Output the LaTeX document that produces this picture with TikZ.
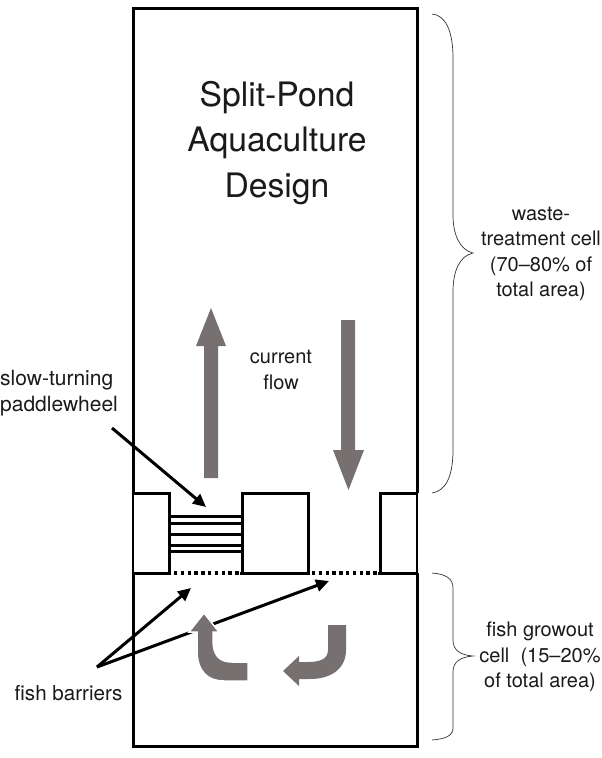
\documentclass[tikz,border=0pt]{standalone}
\usepackage{fontspec}
\setmainfont{TeX Gyre Heros}
\usetikzlibrary{arrows.meta}
\definecolor{flowgrey}{HTML}{767070}
\definecolor{ink}{HTML}{1A1A1A}
\tikzset{
  x=1pt,y=-1pt,
  wall/.style={line width=3pt,black,line cap=butt,line join=miter},
  thinwall/.style={line width=2pt,black},
  paddle/.style={line width=3pt,black},
  barrier/.style={line width=3.2pt,black,dash pattern=on 3.4pt off 3.4pt},
  pointer/.style={line width=3pt,black,-{Triangle[length=13pt,width=12pt]}},
  flow/.style={fill=flowgrey,draw=none},
  halo/.style={fill=flowgrey,draw=white,line width=1.5pt},
  bracket/.style={line width=.7pt,black!80},
  label/.style={inner sep=0pt,text=ink,font=\fontsize{20}{25.5}\selectfont,align=center},
  leftlabel/.style={inner sep=0pt,text=ink,font=\fontsize{21}{26.5}\selectfont,align=left},
  barrierlabel/.style={inner sep=0pt,text=ink,font=\fontsize{20.6}{26}\selectfont},
  title/.style={inner sep=0pt,text=ink,font=\fontsize{33.7}{45.5}\selectfont,align=center}
}
\begin{document}
\begin{tikzpicture}
\useasboundingbox (0,0) rectangle (602,758);
% walls
\draw[wall] (133,493) -- (133,8) -- (417,8) -- (417,493);
\draw[wall] (133,573) -- (133,746) -- (417,746) -- (417,573);
\draw[thinwall] (133,493) -- (133,573);
\draw[thinwall] (417,493) -- (417,573);
\draw[wall] (133,493) -- (169,493) -- (169,573);
\draw[wall] (242,573) -- (242,493) -- (308,493) -- (308,573);
\draw[wall] (380,573) -- (380,493) -- (417,493);
\draw[wall] (133,573) -- (171,573);
\draw[wall] (240,573) -- (310,573);
\draw[wall] (378,573) -- (417,573);
% paddlewheel
\foreach \y in {516,523,534,545,551} \draw[paddle] (169,\y) -- (242,\y);
% barriers
\draw[barrier] (174,573) -- (240,573);
\draw[barrier] (312,573) -- (378,573);
% texts
\node[title] (ttl) at (277,143) {Split-Pond\\Aquaculture\\Design};
\node[label] (cur) at (281,370) {current\\flow};
\node[leftlabel,anchor=west] (pad) at (0,393) {slow-turning\\paddlewheel};
\node[barrierlabel] (fb) at (68.5,693) {fish barriers};
\node[label] (wt) at (541,254) {waste-\\treatment cell\\(70–80\% of\\total area)};
\node[label] (fg) at (540,657) {fish growout\\cell~~(15–20\%\\of total area)};
% pointers
\coordinate (p0) at (112,428);
\coordinate (p1) at (206,507);
\coordinate (f0) at (97,667);
\coordinate (f1) at (191,588);
\coordinate (f2) at (329,581);
\draw[pointer] (p0) -- (p1);
\draw[pointer] (f0) -- (f1);
\draw[pointer] (f0) -- (f2);
% current arrows
\fill[flow] (204,478) -- (204,346) -- (196,346) -- (211,308) -- (226,346) -- (218,346) -- (218,478) -- cycle;
\fill[flow] (341,320) -- (341,450) -- (333,450) -- (348.5,490) -- (364,450) -- (355,450) -- (355,320) -- cycle;
\draw[halo] (248,662) -- (232,662) .. controls (219,662) and (213,655) .. (213,640) -- (213,632) -- (219,632) -- (204,613) -- (189,632) -- (197,632) -- (197,650) .. controls (197,672) and (208,681) .. (224,681) -- (248,681) -- cycle;
\fill[flow] (328,625) -- (328,650) .. controls (328,659) and (320,662) .. (308,662) -- (299,662) -- (299,656) -- (283,671) -- (299,686) -- (299,679) -- (310,679) .. controls (332,679) and (346,668) .. (346,650) -- (346,625) -- cycle;
% brackets
\draw[bracket] (432,14) .. controls (445,15) and (453,30) .. (453,58) -- (453,215) .. controls (453,235) and (460,250) .. (473,253) .. controls (460,256) and (453,270) .. (453,292) -- (453,450) .. controls (453,478) and (445,491) .. (432,493);
\draw[bracket] (432,573) .. controls (445,574) and (453,578) .. (453,588) -- (453,640) .. controls (453,650) and (460,655) .. (473,656) .. controls (460,657) and (453,662) .. (453,672) -- (453,728) .. controls (453,736) and (445,739) .. (432,740);
\end{tikzpicture}
\end{document}
